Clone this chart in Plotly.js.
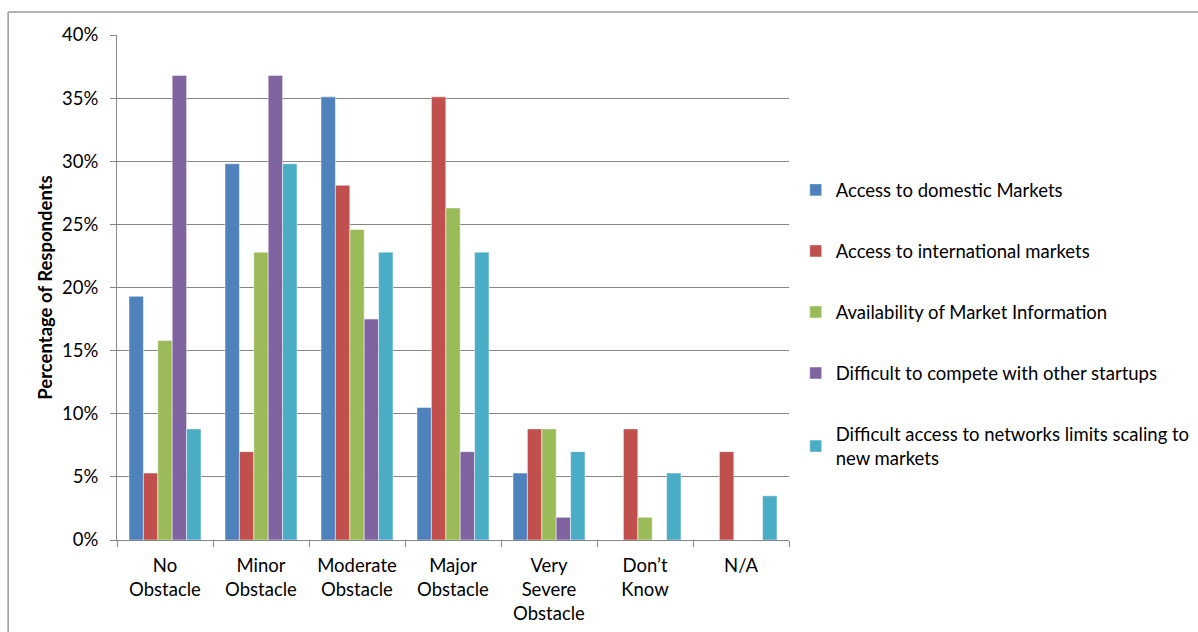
<!DOCTYPE html>
<html><head><meta charset="utf-8">
<script src="https://cdn.plot.ly/plotly-3.0.1.min.js"></script>
<style>html,body{margin:0;padding:0;background:#fff;}#chart{width:1198px;height:632px;}</style>
</head><body><div id="chart"></div>
<script>
var categories = ["No<br>Obstacle", "Minor<br>Obstacle", "Moderate<br>Obstacle", "Major<br>Obstacle", "Very<br>Severe<br>Obstacle", "Don\u2019t<br>Know", "N/A"];
var seriesNames = ["Access to domestic Markets", "Access to international markets", "Availability of Market Information", "Difficult to compete with other startups", "Difficult access to networks limits scaling to<br>new markets"];
var domestic      = [0.193, 0.298, 0.351, 0.105, 0.053, 0, 0];
var international = [0.053, 0.070, 0.281, 0.351, 0.088, 0.088, 0.070];
var marketInfo    = [0.158, 0.228, 0.246, 0.263, 0.088, 0.018, 0];
var compete       = [0.368, 0.368, 0.175, 0.070, 0.018, 0, 0];
var networks      = [0.088, 0.298, 0.228, 0.228, 0.070, 0.053, 0.035];
var yTickVals = [0, 0.05, 0.10, 0.15, 0.20, 0.25, 0.30, 0.35, 0.40];
var yTickText = ["0%", "5%", "10%", "15%", "20%", "25%", "30%", "35%", "40%"];
var colors = ["#4F81BD", "#C0504D", "#9BBB59", "#8064A2", "#4BACC6"];
var allSeries = [domestic, international, marketInfo, compete, networks];

var traces = allSeries.map(function(vals, i) {
  return {
    type: "bar", x: categories, y: vals, name: seriesNames[i],
    legendgroup: "g" + i,
    marker: {color: colors[i], line: {color: "rgba(255,255,255,0.6)", width: 0.8}},
    hoverinfo: "y+name"
  };
});

var font = "Lato, 'Open Sans', 'DejaVu Sans', sans-serif";
var fs = 18.5;
var layout = {
  width: 1198, height: 632,
  margin: {l: 117, r: 409, t: 35, b: 92, autoexpand: false},
  paper_bgcolor: "#fff", plot_bgcolor: "#fff",
  barmode: "group", bargap: 0.25, bargroupgap: 0,
  font: {family: font, size: fs, color: "#000"},
  xaxis: {
    type: "category", showline: true, linecolor: "#868686", linewidth: 1,
    ticks: "outside", tickson: "boundaries", ticklen: 6, tickcolor: "#868686",
    ticklabelstandoff: 9,
    showgrid: false, tickfont: {family: font, size: fs, color: "#000"}, tickangle: 0
  },
  yaxis: {
    range: [0, 0.40], tickvals: yTickVals, ticktext: yTickText,
    showline: true, linecolor: "#868686", linewidth: 1,
    ticks: "outside", ticklen: 6, tickcolor: "#868686",
    ticklabelstandoff: 8,
    showgrid: true, gridcolor: "#868686", gridwidth: 1, zeroline: false,
    tickfont: {family: font, size: fs, color: "#000"},
    title: {text: "<b>Percentage of Respondents</b>", font: {family: font, size: 18.5, color: "#000"}, standoff: 4}
  },
  legend: {
    x: 1.010, y: 0.73, xanchor: "left", yanchor: "top",
    traceorder: "grouped", tracegroupgap: 34,
    font: {family: font, size: fs, color: "#000"},
    itemwidth: 30, bgcolor: "rgba(0,0,0,0)"
  },
  shapes: [
    {type: "line", xref: "paper", yref: "paper", x0: -0.162, x1: 1.7, y0: 1.0455, y1: 1.0455, line: {color: "#9a9a9a", width: 1.5}},
    {type: "line", xref: "paper", yref: "paper", x0: -0.162, x1: -0.162, y0: 1.0455, y1: -0.3, line: {color: "#9a9a9a", width: 1.5}}
  ],
  showlegend: true
};
Plotly.newPlot("chart", traces, layout, {displayModeBar: false, staticPlot: true});
</script></body></html>
